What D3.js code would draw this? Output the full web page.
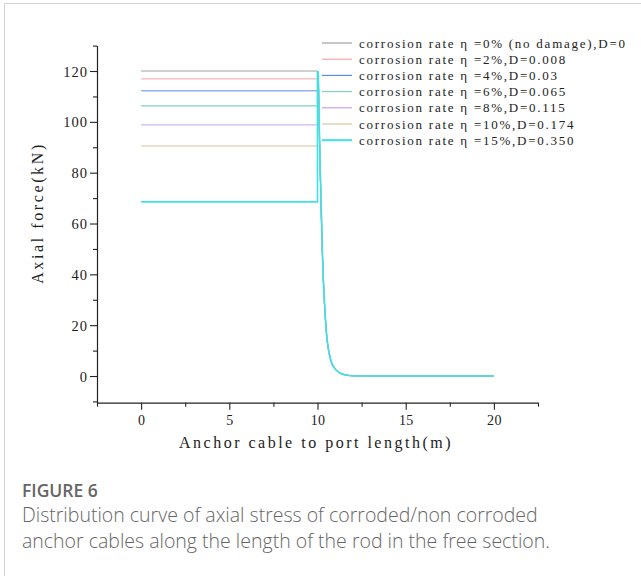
<!DOCTYPE html>
<html>
<head>
<meta charset="utf-8">
<script src="https://cdn.jsdelivr.net/npm/d3@7"></script>
<style>
  body { margin: 0; background: #fff; }
  svg { display: block; }
</style>
</head>
<body>
<div id="chart"></div>
<script>
// Series labels, colours and the constant force over the free length (0-10 m)
const seriesLabels = [
  'corrosion rate \u03b7 =0% (no damage),D=0',
  'corrosion rate \u03b7 =2%,D=0.008',
  'corrosion rate \u03b7 =4%,D=0.03',
  'corrosion rate \u03b7 =6%,D=0.065',
  'corrosion rate \u03b7 =8%,D=0.115',
  'corrosion rate \u03b7 =10%,D=0.174',
  'corrosion rate \u03b7 =15%,D=0.350'
];
const seriesColors = ['#a0a0a0', '#f4a4a4', '#5a8fe0', '#7ed4b4', '#c8a0f0', '#d8c49e', '#40e0e8'];
const seriesWidths = [1, 1, 1, 1.2, 1, 1.2, 1.6];
const freeForce = [120, 116.9, 112.2, 106.3, 98.8, 90.5, 68.5];
const freeStart = 0;
const freeEnd = 10;
const peakForce = 120;

// shared decay in the anchored section
const decayX = [10.04, 10.14, 10.29, 10.48, 10.75, 11.0, 11.27, 11.6, 12.0, 13.0, 20.0];
const decayY = [120, 85, 45.7, 19.3, 6.3, 2.8, 1.2, 0.4, 0.1, 0, 0];

const xMajor = [0, 5, 10, 15, 20];
const xMinor = [-2.5, 2.5, 7.5, 12.5, 17.5, 22.5];
const yMajor = [0, 20, 40, 60, 80, 100, 120];
const yMinor = [-10, 10, 30, 50, 70, 90, 110, 130];

const width = 641, height = 576;
const svg = d3.select('#chart').append('svg')
    .attr('width', width)
    .attr('height', height);

// frame of the figure panel
svg.append('line').attr('x1', 4).attr('y1', 3.5).attr('x2', width).attr('y2', 3.5)
    .attr('stroke', '#d4d4d4');
svg.append('line').attr('x1', 4.5).attr('y1', 3).attr('x2', 4.5).attr('y2', height)
    .attr('stroke', '#d4d4d4');

const x = d3.scaleLinear().domain([-2.5, 22.5]).range([97, 538]);
const y = d3.scaleLinear().domain([-10.5, 130]).range([402.7, 45.6]);

const serif = '"Liberation Serif", "DejaVu Serif", serif';
const axisColor = '#222';

// axes
const xAxis = svg.append('g').attr('transform', `translate(0,${y(-10.5)})`)
    .call(d3.axisBottom(x).tickValues(xMajor).tickSize(7).tickSizeOuter(0).tickFormat(d3.format('d')));
svg.append('g').attr('transform', `translate(0,${y(-10.5)})`)
    .call(d3.axisBottom(x).tickValues(xMinor).tickSize(4).tickSizeOuter(0).tickFormat(''))
    .select('.domain').remove();

const yAxis = svg.append('g').attr('transform', `translate(${x(-2.5)},0)`)
    .call(d3.axisLeft(y).tickValues(yMajor).tickSize(7).tickSizeOuter(0).tickFormat(d3.format('d')));
svg.append('g').attr('transform', `translate(${x(-2.5)},0)`)
    .call(d3.axisLeft(y).tickValues(yMinor).tickSize(4).tickSizeOuter(0).tickFormat(''))
    .select('.domain').remove();

svg.selectAll('.domain').attr('stroke', axisColor).attr('stroke-width', 1.2);
svg.selectAll('.tick line').attr('stroke', axisColor).attr('stroke-width', 1.1);

xAxis.selectAll('.tick text')
    .attr('font-family', serif).attr('font-size', 14).attr('fill', '#222')
    .attr('letter-spacing', 0.3).attr('dy', '0.9em');
yAxis.selectAll('.tick text')
    .attr('font-family', serif).attr('font-size', 14.5).attr('fill', '#222')
    .attr('letter-spacing', 1).attr('x', -9).attr('dy', '0.35em');

// axis titles
svg.append('text')
    .attr('x', 316).attr('y', 448)
    .attr('text-anchor', 'middle')
    .attr('font-family', serif).attr('font-size', 16).attr('letter-spacing', 2.5)
    .attr('fill', '#222')
    .text('Anchor cable to port length(m)');

svg.append('text')
    .attr('transform', `translate(43,${213}) rotate(-90)`)
    .attr('text-anchor', 'middle')
    .attr('font-family', serif).attr('font-size', 16).attr('letter-spacing', 2.6)
    .attr('fill', '#222')
    .text('Axial force(kN)');

// series
const stepLine = d3.line().x(d => x(d[0])).y(d => y(d[1]));
const decayLine = d3.line().x(d => x(d[0])).y(d => y(d[1])).curve(d3.curveMonotoneX);
const decayPts = decayX.map((v, i) => [v, decayY[i]]);

seriesLabels.forEach((label, i) => {
  const stepPts = [[freeStart, freeForce[i]], [freeEnd, freeForce[i]], [freeEnd, peakForce]];
  svg.append('path')
      .attr('d', stepLine(stepPts))
      .attr('fill', 'none')
      .attr('stroke', seriesColors[i])
      .attr('stroke-width', seriesWidths[i]);
  svg.append('path')
      .attr('d', decayLine(decayPts))
      .attr('fill', 'none')
      .attr('stroke', seriesColors[i])
      .attr('stroke-width', seriesWidths[i]);
});

// legend
const legend = svg.append('g').attr('transform', 'translate(322,43)');
seriesLabels.forEach((label, i) => {
  const row = legend.append('g').attr('transform', `translate(0,${i * 16.2})`);
  row.append('line')
      .attr('x1', 0).attr('x2', 30).attr('y1', 0).attr('y2', 0)
      .attr('stroke', seriesColors[i])
      .attr('stroke-width', i === 6 ? 2 : 1.2);
  row.append('text')
      .attr('x', 37).attr('y', 0).attr('dy', '0.35em')
      .attr('font-family', serif).attr('font-size', 13).attr('letter-spacing', 1.75)
      .attr('fill', '#222')
      .text(label);
});

// caption
const sans = '"Open Sans", Lato, sans-serif';
svg.append('text')
    .attr('x', 22).attr('y', 497)
    .attr('font-family', sans).attr('font-size', 17.5).attr('font-weight', 600)
    .attr('fill', '#666')
    .text('FIGURE 6');
const captionLines = [
  'Distribution curve of axial stress of corroded/non corroded',
  'anchor cables along the length of the rod in the free section.'
];
svg.selectAll('.caption').data(captionLines).enter().append('text')
    .attr('class', 'caption')
    .attr('x', 22).attr('y', (d, i) => 522 + i * 26)
    .attr('font-family', sans).attr('font-size', 19.5).attr('font-weight', 300)
    .attr('fill', '#666')
    .text(d => d);
</script>
</body>
</html>
